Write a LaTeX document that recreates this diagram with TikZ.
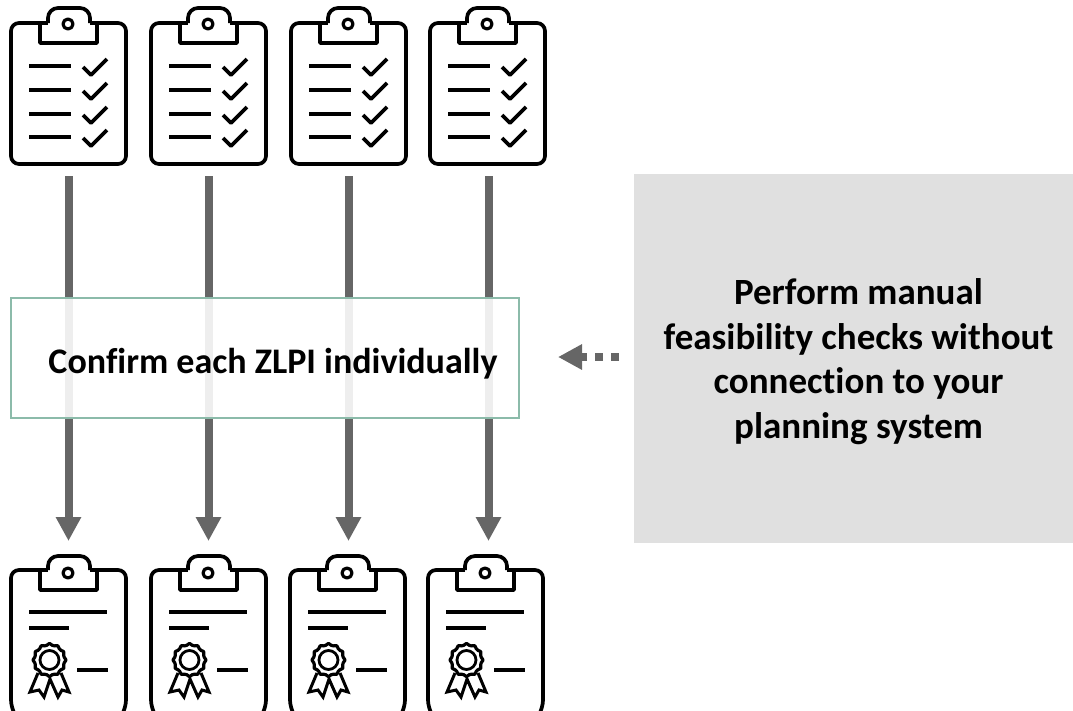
\documentclass[tikz,border=0pt]{standalone}
\usepackage{fontspec}
\setmainfont[Ligatures=NoCommon]{Carlito}
\usetikzlibrary{arrows.meta}
\definecolor{flowgrey}{HTML}{666666}
\definecolor{panelgrey}{HTML}{E0E0E0}
\definecolor{boxgreen}{HTML}{8CBBAA}
\tikzset{
  iconline/.style={draw=black,line width=3.7pt,line join=round},
  flow/.style={draw=flowgrey,line width=8pt,-{Triangle[width=24pt,length=24pt,fill=flowgrey]}},
  dashflow/.style={draw=flowgrey,line width=8pt,dash pattern=on 8pt off 8pt,-{Triangle[width=24pt,length=24pt,fill=flowgrey]}},
  confirmbox/.style={draw=boxgreen,line width=1.2pt,fill=white,fill opacity=.89,text opacity=1,minimum width=508pt,minimum height=120pt,inner sep=0pt},
  panel/.style={fill=panelgrey,minimum width=439pt,minimum height=369pt,inner sep=0pt},
  confirmtextstyle/.style={inner sep=0pt,font=\fontsize{36}{44.5}\selectfont\bfseries},
  paneltextstyle/.style={inner sep=0pt,align=center,font=\fontsize{37}{44.5}\selectfont\bfseries},
}
\newcommand{\clipshape}[2]{% #1 = top of the base, #2 = hole centre y
  \draw[iconline,rounded corners=10pt] (48,#1) -- (48,8) -- (90,8) -- (90,#1);
  \draw[iconline] (48,#1) -- (40,#1) -- (40,#1+20) -- (97,#1+20) -- (97,#1) -- (90,#1);
  \draw[iconline,line width=3.2pt] (68,#2) circle[radius=5];
}
\newcommand{\checkicon}[1]{%
  \begin{scope}[shift={(#1,0)}]
    \draw[iconline,rounded corners=8pt] (40,23) -- (11,23) -- (11,164) -- (126,164) -- (126,23) -- (97,23);
    \clipshape{23}{24}
    \foreach \y in {66,90,114,137}{
      \draw[iconline] (29,\y) -- (71,\y);
      \draw[iconline] (83,\y+1) -- (91,\y+9) -- (107,\y-7);
    }
  \end{scope}}
\newcommand{\certicon}[1]{%
  \begin{scope}[shift={(#1,548)}]
    \draw[iconline,rounded corners=8pt] (40,22) -- (11,22) -- (11,160) -- (17,170) -- (120,170) -- (126,160) -- (126,22) -- (97,22);
    \clipshape{22}{25}
    \draw[iconline] (29,64) -- (107,64);
    \draw[iconline] (29,80) -- (69,80);
    \draw[iconline] (77,122) -- (108,122);
    \draw[iconline,line width=3.2pt] plot[smooth cycle,samples=36,domain=0:350,variable=\a] ({49.5+(15.5+1*cos(12*\a))*cos(\a)},{112+(15.5+1*cos(12*\a))*sin(\a)});
    \draw[iconline,line width=2.8pt] (49.5,112) circle[radius=9.5];
    \draw[iconline,line width=3pt,line join=miter] (38,125) -- (30,144) -- (39,142) -- (44,149) -- (50,131) -- (58,149) -- (62,142) -- (69,144) -- (61,125);
  \end{scope}}
\begin{document}
\begin{tikzpicture}[x=1pt,y=-1pt]
\useasboundingbox (0,0) rectangle (1073,710);
\foreach \x in {0,140,280,419} {\checkicon{\x}}
\foreach \x in {0,140,279,417} {\certicon{\x}}
\coordinate (t1) at (68.5,176); \coordinate (b1) at (68.5,541);
\coordinate (t2) at (208.5,176); \coordinate (b2) at (208.5,541);
\coordinate (t3) at (348.5,176); \coordinate (b3) at (348.5,541);
\coordinate (t4) at (488.5,176); \coordinate (b4) at (488.5,541);
\draw[flow] (t1) -- (b1);
\draw[flow] (t2) -- (b2);
\draw[flow] (t3) -- (b3);
\draw[flow] (t4) -- (b4);
\node[confirmbox] (confirm) at (265,358) {};
\node[confirmtextstyle] (confirmtext) at (273,364) {Confirm each ZLPI individually};
\node[panel] (manual) at (853.5,358.5) {};
\node[paneltextstyle] (manualtext) at (858.5,361.5) {Perform manual\\feasibility checks without\\connection to your\\planning system};
\coordinate (dashstart) at (619,357);
\coordinate (dashend) at (558,357);
\draw[dashflow] (dashstart) -- (dashend);
\end{tikzpicture}
\end{document}
